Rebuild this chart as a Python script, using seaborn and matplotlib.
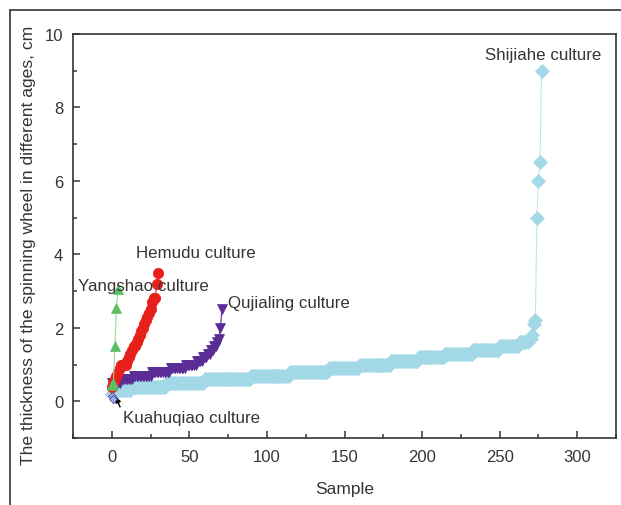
import numpy as np
import pandas as pd
import matplotlib
matplotlib.use('Agg')
import matplotlib.pyplot as plt
from matplotlib.lines import Line2D
from matplotlib.ticker import MultipleLocator
import seaborn as sns

# Thickness values (cm), sorted per culture
# Shijiahe: distinct values and how many samples share each value
shijiahe_vals = [0.2, 0.3, 0.4, 0.5, 0.6, 0.7, 0.8, 0.9, 1.0, 1.1, 1.2, 1.3, 1.4, 1.5, 1.6, 1.7, 1.8, 2.1, 2.2, 5.0, 6.0, 6.5, 9.0]
shijiahe_counts = [3, 10, 22, 25, 30, 25, 25, 20, 20, 18, 17, 18, 17, 13, 6, 2, 1, 1, 1, 1, 1, 1, 1]

qujialing_vals = [0.5, 0.6, 0.7, 0.8, 0.9, 1.0, 1.1, 1.2, 1.3, 1.4, 1.5, 1.6, 1.7, 2.0, 2.5]
qujialing_counts = [6, 8, 12, 12, 10, 7, 4, 3, 2, 2, 2, 1, 1, 1, 1]

hemudu = [0.4, 0.5, 0.6, 0.7, 0.8, 0.9, 1.0, 1.0, 1.0, 1.0, 1.1, 1.2, 1.3, 1.4, 1.5,
          1.5, 1.6, 1.7, 1.8, 1.9, 2.0, 2.1, 2.2, 2.3, 2.4, 2.5, 2.7, 2.8, 2.8, 3.2, 3.5]
yangshao = [0.45, 0.5, 1.5, 2.55, 3.05]
kuahuqiao = [0.15, 0.05]

shijiahe = np.repeat(shijiahe_vals, shijiahe_counts)
qujialing = np.repeat(qujialing_vals, qujialing_counts)

sns.set_style('ticks')
plt.rcParams['font.family'] = ['Liberation Sans', 'DejaVu Sans']
txt = '#3a3336'

fig = plt.figure(figsize=(6.21, 5.06), dpi=100)
ax = fig.add_axes([0.1176, 0.1324, 0.8744, 0.7986])

def draw(vals, color, marker, ms, lc, mec=None, zo=2):
    d = pd.DataFrame({'Sample': np.arange(len(vals)), 'v': vals})
    sns.lineplot(data=d, x='Sample', y='v', ax=ax, color=lc, lw=0.8,
                 marker=marker, markersize=ms, markerfacecolor=color,
                 markeredgecolor=mec if mec else color, markeredgewidth=0.5,
                 zorder=zo)

draw(shijiahe, '#a3d9e6', 'D', 7.5, '#bfe5ee', zo=2)
draw(qujialing, '#5a2d96', 'v', 7.5, '#5a2d96', zo=3)
draw(hemudu, '#e8201c', 'o', 7.5, '#e8201c', zo=4)
draw(yangshao, '#5cbf63', '^', 7, '#9ad79c', zo=5)
draw(kuahuqiao, '#8fb4e8', 'D', 4, '#5a2d96', mec='#5a2d96', zo=6)

ax.set_xlim(-25, 325)
ax.set_ylim(-1, 10)
ax.xaxis.set_major_locator(MultipleLocator(50))
ax.xaxis.set_minor_locator(MultipleLocator(25))
ax.yaxis.set_major_locator(MultipleLocator(2))
ax.yaxis.set_minor_locator(MultipleLocator(1))
ax.tick_params(which='both', direction='in', colors=txt, labelsize=12, labelcolor=txt)
ax.tick_params(which='major', length=5, width=1.1)
ax.tick_params(which='minor', length=3, width=1.1)
ax.tick_params(axis='x', pad=8)
ax.tick_params(axis='y', pad=7)
for s in ax.spines.values():
    s.set_color('#333333')
    s.set_linewidth(1.2)
ax.set_xlabel('Sample', fontsize=12.5, color=txt, labelpad=12)
ax.set_ylabel('The thickness of the spinning wheel in different ages, cm', fontsize=12.6, color=txt)
ax.yaxis.set_label_coords(-0.069, 0.48)

fs = 12.2
ax.text(278, 9.43, 'Shijiahe culture', ha='center', va='center', fontsize=fs, color=txt)
ax.text(54, 4.05, 'Hemudu culture', ha='center', va='center', fontsize=fs, color=txt)
ax.text(-22, 3.15, 'Yangshao culture', ha='left', va='center', fontsize=fs, color=txt, zorder=10)
ax.text(75, 2.69, 'Qujialing culture', ha='left', va='center', fontsize=fs, color=txt)
ax.annotate('Kuahuqiao culture', xy=(2.6, 0.12), xytext=(7, -0.45), ha='left', va='center',
            fontsize=fs, color=txt,
            arrowprops=dict(arrowstyle='-|>', color='black', lw=1, shrinkA=0, shrinkB=0,
                            mutation_scale=8, relpos=(0, 0.8)))

# outer frame around the figure (top and left edges)
fig.add_artist(Line2D([0.016, 0.016], [0, 0.978], color='#333333', lw=1.2))
fig.add_artist(Line2D([0.016, 1], [0.978, 0.978], color='#333333', lw=1.2))

fig.savefig('out.png', dpi=100)
